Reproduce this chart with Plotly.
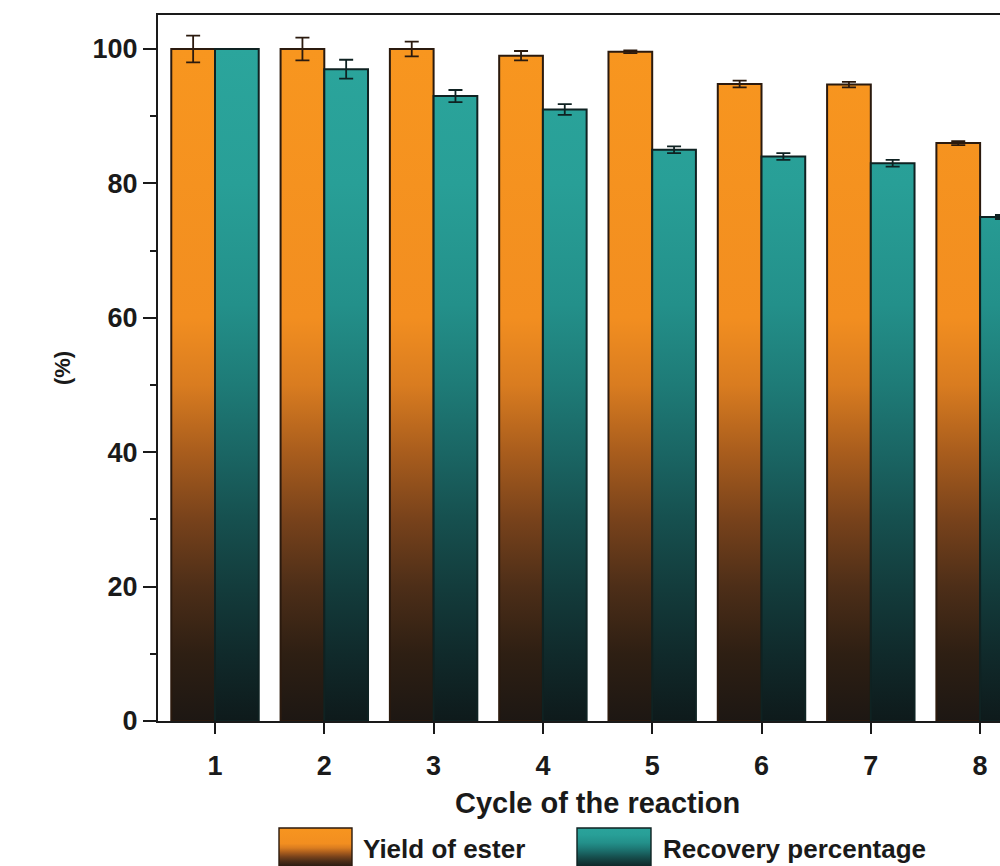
import plotly.graph_objects as go

# ---- data ----
cycles = [1, 2, 3, 4, 5, 6, 7, 8]
yield_ester = [100.0, 100.0, 100.0, 99.0, 99.6, 94.8, 94.7, 86.0]
yield_err = [2.0, 1.7, 1.1, 0.7, 0.2, 0.5, 0.4, 0.3]
recovery = [100.0, 97.0, 93.0, 91.0, 85.0, 84.0, 83.0, 75.0]
recovery_err = [0.0, 1.4, 0.9, 0.8, 0.5, 0.5, 0.5, 0.3]
series_names = ["Yield of ester", "Recovery percentage"]

W, H = 1000, 866
BAR_W = 0.4

ORANGE_SCALE = [
    [0.00, "#1d1713"], [0.10, "#2e1f13"], [0.20, "#4d2e18"],
    [0.30, "#78421b"], [0.40, "#a95d1d"], [0.50, "#d97c20"],
    [0.60, "#f28e20"], [1.00, "#f8961f"],
]
TEAL_SCALE = [
    [0.00, "#0e1a1b"], [0.10, "#102a2b"], [0.20, "#133c3c"],
    [0.30, "#16504f"], [0.40, "#1a6664"], [0.50, "#1e7b77"],
    [0.62, "#23908a"], [0.80, "#289f97"], [1.00, "#2ba59c"],
]
ORANGE_EDGE = "#2b1a0e"
TEAL_EDGE = "#0f2222"


def bar_outlines(xs, heights, left_offset):
    """Closed rectangles (separated by gaps) for a row of bars."""
    px, py = [], []
    for x, h in zip(xs, heights):
        x0 = x + left_offset
        x1 = x0 + BAR_W
        px += [x0, x0, x1, x1, x0, None]
        py += [0, h, h, 0, 0, None]
    return px, py


fig = go.Figure()

series = [
    (yield_ester, yield_err, -BAR_W, ORANGE_SCALE, ORANGE_EDGE),
    (recovery, recovery_err, 0.0, TEAL_SCALE, TEAL_EDGE),
]

for name, (vals, errs, off, scale, edge) in zip(series_names, series):
    bx, by = bar_outlines(cycles, vals, off)
    fig.add_trace(go.Scatter(
        x=bx, y=by, mode="lines", fill="toself", name=name,
        line=dict(color=edge, width=2),
        fillgradient=dict(type="vertical", start=0, stop=100, colorscale=scale),
        hoverinfo="skip", showlegend=False,
    ))

for vals, errs, off, scale, edge in series:
    fig.add_trace(go.Scatter(
        x=[c + off + BAR_W / 2 for c in cycles], y=vals, mode="markers",
        marker=dict(size=1, opacity=0),
        error_y=dict(type="data", array=errs, visible=True,
                     color=edge, thickness=1.8, width=7),
        showlegend=False, hoverinfo="skip",
    ))

# ---- legend drawn in its own pixel-scaled axes at the bottom ----
legend_boxes = [(279, 352), (577, 651)]
legend_text_x = [361, 661]
for (x0, x1), tx, name, (_, _, _, scale, edge) in zip(legend_boxes, legend_text_x, series_names, series):
    fig.add_trace(go.Scatter(
        x=[x0, x0, x1, x1, x0], y=[-6, 38, 38, -6, -6],
        mode="lines", fill="toself", xaxis="x2", yaxis="y2",
        line=dict(color=edge, width=1.4),
        fillgradient=dict(type="vertical", start=-4, stop=40, colorscale=scale),
        showlegend=False, hoverinfo="skip",
    ))
    fig.add_annotation(
        x=tx, y=17, xref="x2", yref="y2", text=name, showarrow=False,
        xanchor="left", yanchor="middle",
        font=dict(family="Liberation Sans", size=26, color="#1a1a1a", weight="bold"),
    )

AXIS_COLOR = "#1a1a1a"
TICK_FONT = dict(family="Liberation Sans", size=27, color="#1a1a1a", weight="bold")

y_bottom = (H - 721) / H
y_top = (H - 15) / H

fig.update_layout(
    width=W, height=H,
    margin=dict(l=0, r=0, t=0, b=0, autoexpand=False),
    paper_bgcolor="white", plot_bgcolor="white",
    showlegend=False,
    xaxis=dict(
        domain=[158 / W, 1.0], range=[0.4785, 8.182], automargin=False,
        tickvals=cycles, ticktext=[str(c) for c in cycles],
        ticks="outside", ticklen=11, tickwidth=2, tickcolor=AXIS_COLOR,
        ticklabelstandoff=9,
        showline=True, linecolor=AXIS_COLOR, linewidth=2, mirror=True,
        showgrid=False, zeroline=False, tickfont=TICK_FONT,
    ),
    yaxis=dict(
        domain=[y_bottom, y_top], range=[0, 105.06], automargin=False,
        tickvals=[0, 20, 40, 60, 80, 100],
        ticks="outside", ticklen=13, tickwidth=2, tickcolor=AXIS_COLOR,
        minor=dict(tickvals=[10, 30, 50, 70, 90], ticks="outside",
                   ticklen=6, tickwidth=2, tickcolor=AXIS_COLOR),
        showline=True, linecolor=AXIS_COLOR, linewidth=2, mirror=False,
        showgrid=False, zeroline=False, tickfont=TICK_FONT,
        title=dict(text="(%)", standoff=16,
                   font=dict(family="Liberation Sans", size=22, color="#1a1a1a", weight="bold")),
    ),
    xaxis2=dict(domain=[0, 1], range=[0, W], visible=False, anchor="y2", automargin=False),
    yaxis2=dict(domain=[0, 66 / H], range=[0, 66], visible=False, anchor="x2", automargin=False),
)

fig.add_annotation(
    x=597 / W, y=(H - 803) / H, xref="paper", yref="paper",
    text="Cycle of the reaction", showarrow=False,
    xanchor="center", yanchor="middle",
    font=dict(family="Liberation Sans", size=29, color="#1a1a1a", weight="bold"),
)

fig.write_html("out.html")
